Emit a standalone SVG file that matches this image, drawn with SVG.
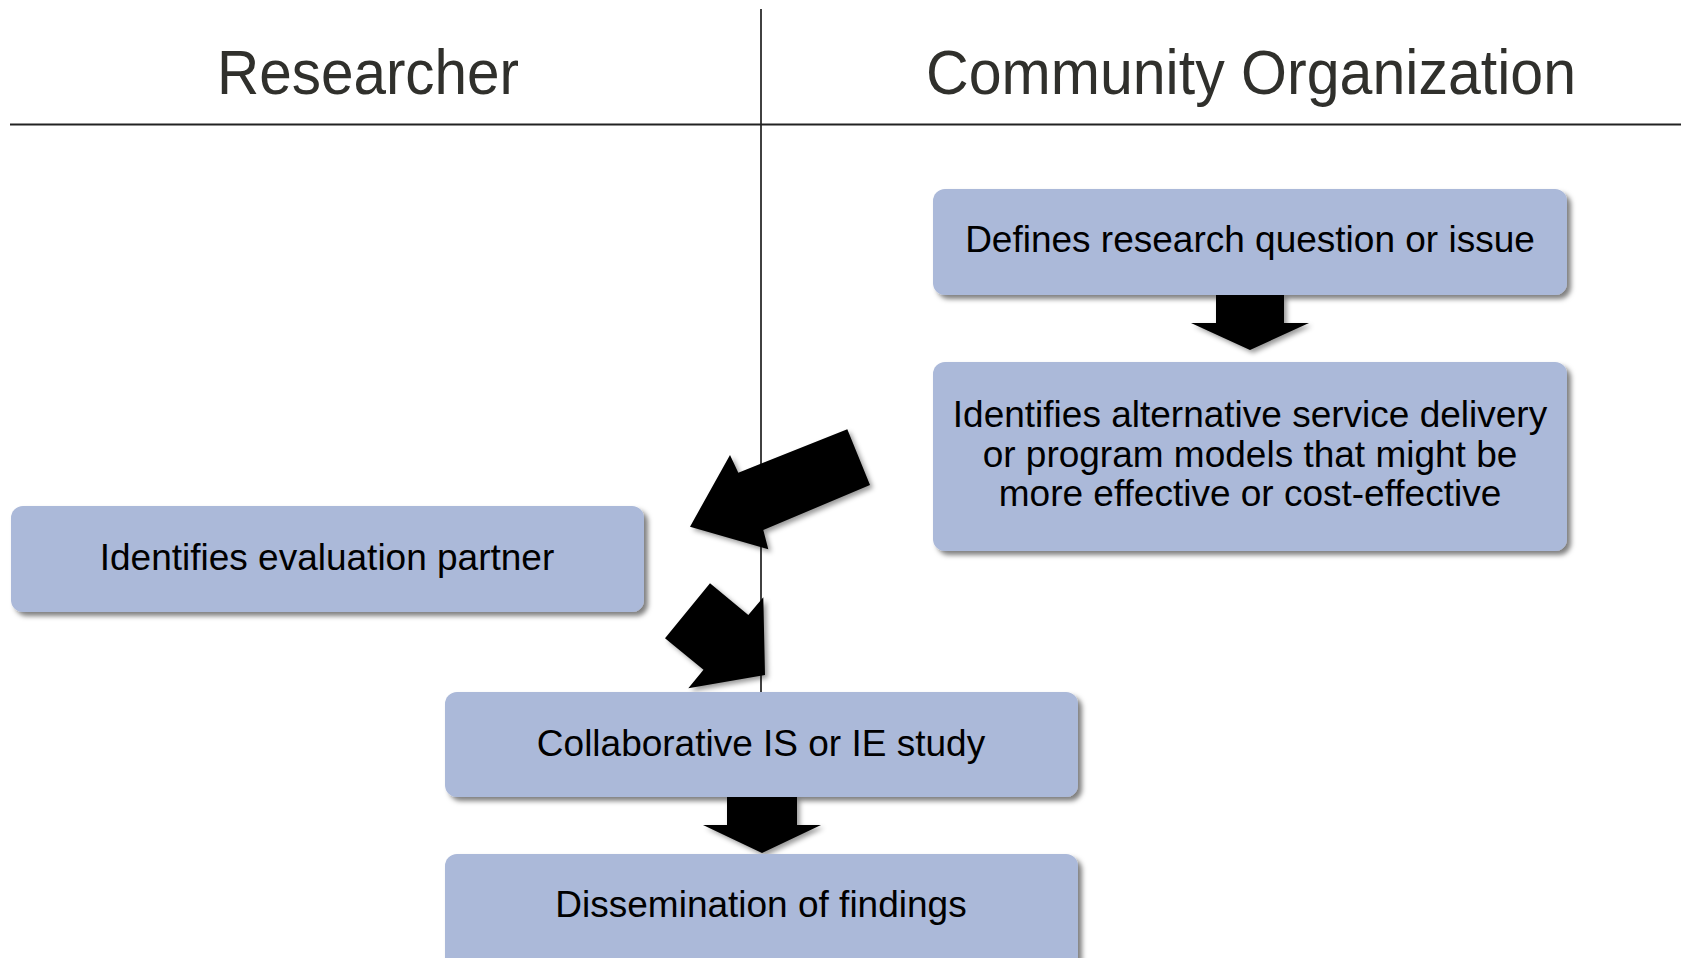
<svg xmlns="http://www.w3.org/2000/svg" width="1681" height="958" viewBox="0 0 1681 958">
<style>
.hdr{font-family:"Liberation Sans",Arial,sans-serif;font-size:63px;fill:#30302c;text-anchor:middle}
.box{fill:#abb9d9;filter:url(#sh)}
.lbl{font-family:"Liberation Sans",Arial,sans-serif;font-size:37px;fill:#000;text-anchor:middle}
.arr{fill:#000;filter:url(#sh2)}
</style>
<defs>
<filter id="sh" x="-10%" y="-20%" width="120%" height="150%">
<feDropShadow dx="4" dy="4" stdDeviation="2.5" flood-color="#000" flood-opacity="0.5"/>
</filter>
<filter id="sh2" x="-20%" y="-20%" width="140%" height="140%">
<feDropShadow dx="3" dy="3" stdDeviation="2.5" flood-color="#000" flood-opacity="0.4"/>
</filter>
</defs>
<rect width="1681" height="958" fill="#fff"/>
<g id="lanes">
<line x1="761" y1="9" x2="761" y2="692" stroke="#111" stroke-width="1.6"/>
<line x1="10" y1="124.5" x2="1681" y2="124.5" stroke="#222" stroke-width="2"/>
<text class="hdr" x="368" y="94" textLength="302" lengthAdjust="spacingAndGlyphs">Researcher</text>
<text class="hdr" x="1251" y="94" textLength="650" lengthAdjust="spacingAndGlyphs">Community Organization</text>
</g>
<g id="connectors">
<polygon class="arr" points="1216,295 1284,295 1284,323 1309,323 1250,350 1191,323 1216,323"/>
<polygon class="arr" points="727,797 797,797 797,825 821,825 762,853 703,825 727,825"/>
<polygon class="arr" points="847.3,429.3 870,485 763.3,530 768.3,549.3 690,526.7 730,455 738.3,472.7"/>
<polygon class="arr" points="665,638.3 710,583.3 748.3,615 763.3,597.3 765,675 688.3,688.3 703.5,669.8"/>
</g>
<g id="n1">
<rect class="box" x="933" y="189" width="634" height="106" rx="12"/>
<text class="lbl" x="1250" y="252">Defines research question or issue</text>
</g>
<g id="n2">
<rect class="box" x="933" y="362" width="634" height="189" rx="12"/>
<text class="lbl" x="1250" y="427">Identifies alternative service delivery</text>
<text class="lbl" x="1250" y="467">or program models that might be</text>
<text class="lbl" x="1250" y="506">more effective or cost-effective</text>
</g>
<g id="n3">
<rect class="box" x="11" y="506" width="633" height="106" rx="12"/>
<text class="lbl" x="327" y="570">Identifies evaluation partner</text>
</g>
<g id="n4">
<rect class="box" x="445" y="692" width="633" height="105" rx="12"/>
<text class="lbl" x="761" y="756">Collaborative IS or IE study</text>
</g>
<g id="n5">
<rect class="box" x="445" y="854" width="633" height="120" rx="12"/>
<text class="lbl" x="761" y="917">Dissemination of findings</text>
</g>
</svg>
